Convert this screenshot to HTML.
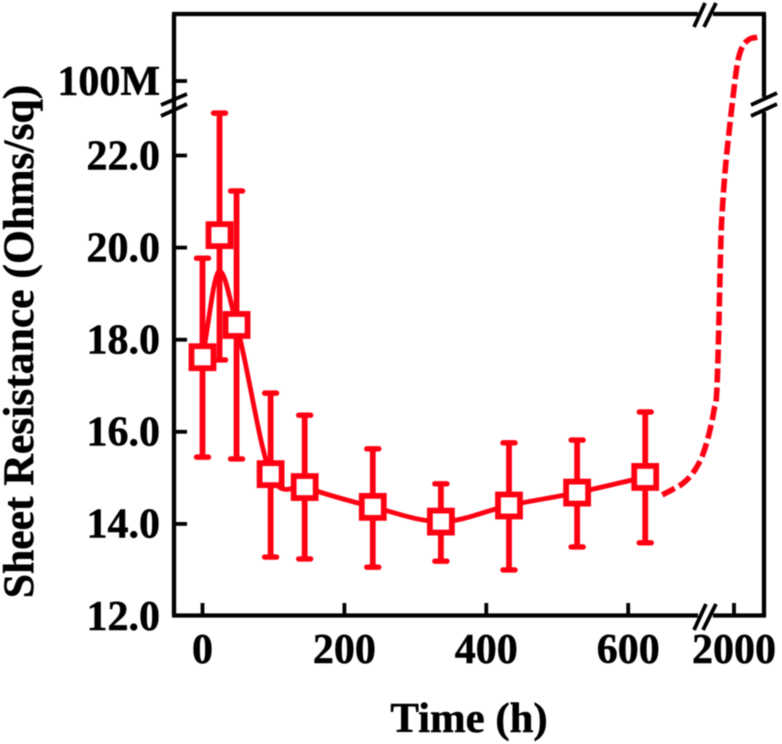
<!DOCTYPE html>
<html lang="en">
<head>
<meta charset="utf-8">
<title>Sheet Resistance vs Time</title>
<style>
html,body{margin:0;padding:0;background:#fff;width:782px;height:744px;overflow:hidden}
svg{display:block;filter:blur(.4px)}
text{font-family:"Liberation Serif",serif;font-weight:bold;fill:#000;stroke:#000;stroke-width:.5px}
</style>
</head>
<body>
<svg id="chart" xmlns="http://www.w3.org/2000/svg" width="782" height="744" viewBox="0 0 782 744">
  <rect x="0" y="0" width="782" height="744" fill="#fff"/>
  <g fill="none" stroke="#000" stroke-width="4.3">
    <path d="M174 615.5V97M174 112V14"/>
    <path d="M172 14H698M713 14H766"/>
    <path d="M764 14V97M764 112V617"/>
    <path d="M172 615.5H698M713 615.5H766"/>
  </g>
  <g fill="none" stroke="#000" stroke-width="3.8">
    <path d="M161 105L187 94M161 116L187 104"/>
    <path d="M751 105L777 93M751 116L777 104"/>
    <path d="M694 27L705 3M704 27L716 3"/>
    <path d="M694 630L706 604M703 630L716 604"/>
  </g>
  <g id="ticks"></g>
  <g id="labels" font-size="42"></g>
  <text x="469" y="732" font-size="42.8" text-anchor="middle">Time (h)</text>
  <text transform="translate(33 341.5) rotate(-90)" font-size="43.6" text-anchor="middle">Sheet Resistance (Ohms/sq)</text>
  <g id="series"></g>
</svg>
<script>
// Data
const times = [0, 24, 48, 96, 144, 240, 336, 432, 528, 624];
const meanValues = [17.62, 20.27, 18.32, 15.08, 14.80, 14.37, 14.05, 14.40, 14.68, 15.02];
const upperValues = [19.77, 22.92, 21.23, 16.84, 16.36, 15.63, 14.87, 15.76, 15.82, 16.43];
const lowerValues = [15.45, 17.56, 15.41, 13.28, 13.24, 13.06, 13.19, 13.00, 13.50, 13.59];
const fitValues = [17.62, 19.49, 18.32, 15.08, 14.80, 14.37, 14.05, 14.40, 14.68, 15.02];
const trendTimes = [648, 664, 678, 694, 705, 1815, 1846, 1869, 1877, 1885, 1892, 1900, 1915, 1931, 1962, 1985, 2008, 2028, 2059, 2108, 2185];
const trendValues = [14.63, 14.76, 14.89, 15.17, 15.5, 16.04, 16.47, 16.97, 17.62, 18.49, 19.36, 20.23, 21.03, 21.64, 22.51, 2.8e7, 1.05e8, 2.7e8, 5.6e8, 8.5e8, 1e9];
const xTicks = [0, 200, 400, 600, 2000];
const xTickLabels = ['0', '200', '400', '600', '2000'];
const yTicks = [14, 16, 18, 20, 22, 1e8];
const yLabelValues = [12, 14, 16, 18, 20, 22, 1e8];
const yLabels = ['12.0', '14.0', '16.0', '18.0', '20.0', '22.0', '100M'];

const NS = 'http://www.w3.org/2000/svg';
const RED = '#ff0012';

function xScale(t) {
  if (t <= 711) return 202.5 + 0.7095 * t;
  if (t >= 1800) return 734 + (t - 2000) * 0.13;
  return 707 + (t - 711) / 1089;
}
function yScale(v) {
  if (v <= 23.1) return 616 - 46.05 * (v - 12);
  if (v >= 2.8e7) return 81 - 44 * (Math.log10(v) - 8);
  return 105;
}
function make(tag, attrs, parent) {
  const el = document.createElementNS(NS, tag);
  for (const k in attrs) el.setAttribute(k, attrs[k]);
  parent.appendChild(el);
  return el;
}
// Monotone cubic path in pixel space
function splinePath(pts) {
  const n = pts.length, d = [], m = [];
  for (let i = 0; i < n - 1; i++) d.push((pts[i + 1][1] - pts[i][1]) / (pts[i + 1][0] - pts[i][0]));
  m[0] = d[0];
  m[n - 1] = d[n - 2];
  for (let i = 1; i < n - 1; i++) {
    if (d[i - 1] * d[i] <= 0) { m[i] = 0; continue; }
    const h0 = pts[i][0] - pts[i - 1][0], h1 = pts[i + 1][0] - pts[i][0];
    m[i] = (d[i - 1] / h0 + d[i] / h1) / (1 / h0 + 1 / h1);
  }
  let s = 'M' + pts[0][0].toFixed(2) + ' ' + pts[0][1].toFixed(2);
  for (let i = 0; i < n - 1; i++) {
    const h = (pts[i + 1][0] - pts[i][0]) / 3;
    s += 'C' + (pts[i][0] + h).toFixed(2) + ' ' + (pts[i][1] + m[i] * h).toFixed(2) + ' ' +
         (pts[i + 1][0] - h).toFixed(2) + ' ' + (pts[i + 1][1] - m[i + 1] * h).toFixed(2) + ' ' +
         pts[i + 1][0].toFixed(2) + ' ' + pts[i + 1][1].toFixed(2);
  }
  return s;
}

const tickGroup = document.getElementById('ticks');
const labelGroup = document.getElementById('labels');
const seriesGroup = document.getElementById('series');

xTicks.forEach((t, i) => {
  const tick = make('line', { x1: xScale(t), x2: xScale(t), y1: 615.5, y2: 603, stroke: '#000', 'stroke-width': 3.8 }, tickGroup);
  
  
  const label = make('text', { x: xScale(t), y: 663, 'text-anchor': 'middle' }, labelGroup);
  label.textContent = xTickLabels[i];
  
  
});
yTicks.forEach((v) => {
  const tick = make('line', { x1: 174, x2: 187, y1: yScale(v), y2: yScale(v), stroke: '#000', 'stroke-width': 3.8 }, tickGroup);
  
  
});
yLabelValues.forEach((v, i) => {
  const label = make('text', { x: 160, y: yScale(v) + 13.8, 'text-anchor': 'end' }, labelGroup);
  label.textContent = yLabels[i];
  
  
});

// Dashed extrapolated trend
const trendLine = make('path', {
  d: splinePath(trendTimes.map((t, i) => [xScale(t), yScale(trendValues[i])])),
  fill: 'none', stroke: RED, 'stroke-width': 5.6, 'stroke-dasharray': '14 5'
}, seriesGroup);



// Solid fitted line
const fitLine = make('path', {
  d: splinePath(times.map((t, i) => [xScale(t), yScale(fitValues[i])])),
  fill: 'none', stroke: RED, 'stroke-width': 4.8
}, seriesGroup);



// Error bars
times.forEach((t, i) => {
  const x = xScale(t), yTop = yScale(upperValues[i]), yBot = yScale(lowerValues[i]);
  const bar = make('line', { x1: x, x2: x, y1: yTop, y2: yBot, stroke: RED, 'stroke-width': 5.8 }, seriesGroup);
  
  
  const capTop = make('line', { x1: x - 6, x2: x + 6, y1: yTop, y2: yTop, stroke: RED, 'stroke-width': 5.4, 'stroke-linecap': 'round' }, seriesGroup);
  
  
  const capBot = make('line', { x1: x - 6, x2: x + 6, y1: yBot, y2: yBot, stroke: RED, 'stroke-width': 5.4, 'stroke-linecap': 'round' }, seriesGroup);
  
  
});

// Square markers
times.forEach((t, i) => {
  const x = xScale(t), y = yScale(meanValues[i]);
  const marker = make('rect', { x: x - 11, y: y - 11, width: 22, height: 22, fill: '#fff', stroke: RED, 'stroke-width': 5.8 }, seriesGroup);
  
  
});
</script>
</body>
</html>
